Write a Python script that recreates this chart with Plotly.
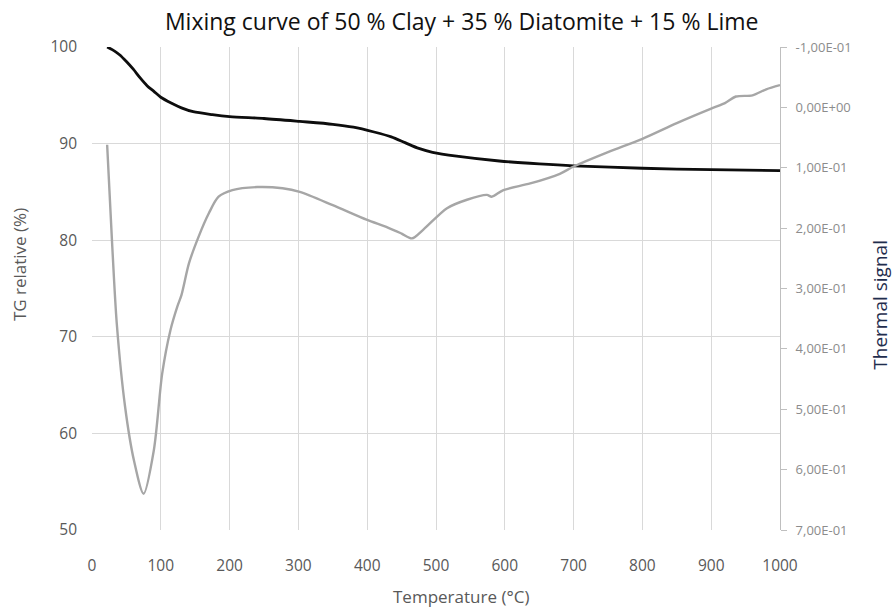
import plotly.graph_objects as go

# ---- data ----
tg_temp = [22, 30, 40, 50, 60, 70, 80, 90, 100, 115, 130, 147, 175, 200, 250, 302, 350, 380,
           410, 435, 455, 475, 495, 530, 592, 650, 700, 800, 900, 1000]
tg_value = [100.0, 99.7, 99.2, 98.5, 97.7, 96.8, 96.0, 95.4, 94.8, 94.2, 93.7, 93.3, 93.0,
            92.8, 92.6, 92.3, 92.0, 91.7, 91.2, 90.7, 90.1, 89.5, 89.1, 88.7, 88.2, 87.9,
            87.7, 87.45, 87.3, 87.2]

th_temp = [22, 29, 36, 48, 61, 75, 90, 102, 114, 124, 130, 141, 155, 170, 184, 204, 240, 277,
           302, 350, 399, 430, 450, 465, 482, 516, 545, 574, 581, 598, 637, 680, 700, 750, 800,
           850, 900, 920, 936, 960, 980, 1000]
th_value = [0.062, 0.220, 0.358, 0.495, 0.585, 0.640, 0.567, 0.441, 0.369, 0.330, 0.311,
            0.258, 0.214, 0.175, 0.148, 0.137, 0.132, 0.134, 0.140, 0.162, 0.186, 0.199,
            0.209, 0.217, 0.202, 0.167, 0.153, 0.145, 0.148, 0.137, 0.126, 0.110, 0.098,
            0.074, 0.052, 0.026, 0.002, -0.007, -0.018, -0.020, -0.030, -0.037]

x_ticks = [0, 100, 200, 300, 400, 500, 600, 700, 800, 900, 1000]
y_ticks = [50, 60, 70, 80, 90, 100]
y2_ticks = [-0.1, 0.0, 0.1, 0.2, 0.3, 0.4, 0.5, 0.6, 0.7]
y2_labels = ["-1,00E-01", "0,00E+00", "1,00E-01", "2,00E-01", "3,00E-01",
             "4,00E-01", "5,00E-01", "6,00E-01", "7,00E-01"]

title_text = "Mixing curve of 50 % Clay + 35 % Diatomite + 15 % Lime"

FONT = "'Open Sans', Lato, sans-serif"
GRID = "#d9d9d9"
TICKC = "#595959"

fig = go.Figure()
fig.add_trace(go.Scatter(x=th_temp, y=th_value, yaxis="y2", mode="lines",
                         line=dict(color="#a6a6a6", width=2.4, shape="spline", smoothing=0.8),
                         showlegend=False, hoverinfo="skip"))
fig.add_trace(go.Scatter(x=tg_temp, y=tg_value, mode="lines",
                         line=dict(color="#0d0d0d", width=2.8, shape="spline", smoothing=0.8),
                         showlegend=False, hoverinfo="skip"))

fig.update_layout(
    width=893, height=609,
    margin=dict(l=92, r=113, t=47, b=79),
    paper_bgcolor="white", plot_bgcolor="white",
    font=dict(family=FONT, color=TICKC),
    title=dict(text=title_text, x=0.517, xanchor="center", y=1 - 22 / 609, yref="container",
               yanchor="middle", font=dict(size=23, color="#111111", family=FONT)),
    xaxis=dict(range=[0, 1000], tickvals=x_ticks, ticktext=[str(v) for v in x_ticks],
               showgrid=True, gridcolor=GRID, gridwidth=1, zeroline=False,
               showline=False, ticks="", ticklabelstandoff=24,
               tickfont=dict(size=15.5, color=TICKC)),
    yaxis=dict(range=[50, 100], tickvals=y_ticks, showgrid=True, gridcolor=GRID,
               gridwidth=1, zeroline=False, showline=False, ticks="",
               ticklabelstandoff=14, tickfont=dict(size=15.5, color=TICKC)),
    yaxis2=dict(overlaying="y", side="right", range=[0.7, -0.1], tickvals=y2_ticks,
                ticktext=y2_labels, showgrid=False, zeroline=False, showline=True,
                linecolor="#bfbfbf", linewidth=1, ticks="outside", ticklen=6,
                tickcolor="#bfbfbf", ticklabelstandoff=6,
                tickfont=dict(size=13, color="#8c8c8c")),
    annotations=[
        dict(text="Temperature (°C)", xref="paper", yref="paper", x=0.537, y=-0.137,
             xanchor="center", yanchor="middle", showarrow=False,
             font=dict(size=17, color=TICKC, family=FONT)),
        dict(text="TG relative (%)", xref="paper", yref="paper", x=-0.105, y=0.55,
             xanchor="center", yanchor="middle", textangle=-90, showarrow=False,
             font=dict(size=17, color=TICKC, family=FONT)),
        dict(text="Thermal signal", xref="paper", yref="paper", x=1.145, y=0.466,
             xanchor="center", yanchor="middle", textangle=-90, showarrow=False,
             font=dict(size=19, color="#1f2d4d", family=FONT)),
    ],
)

fig.write_html("out.html", config={"displayModeBar": False},
               post_script="document.body.style.margin='0';")
